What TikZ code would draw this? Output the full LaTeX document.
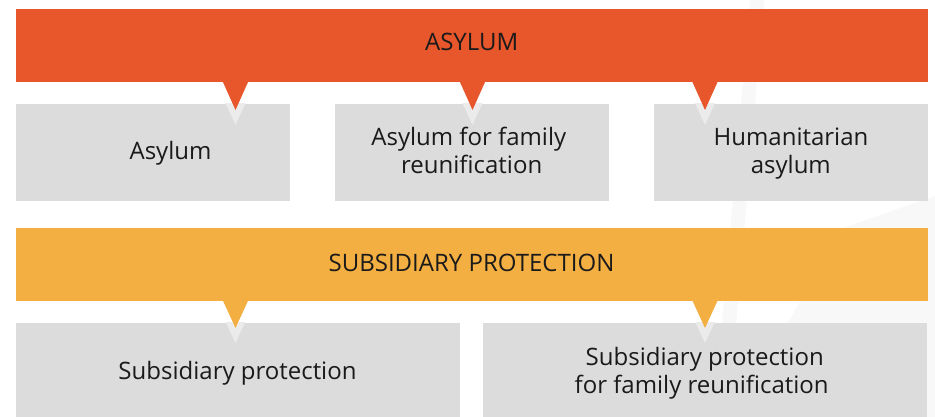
\documentclass[tikz,border=0pt]{standalone}
\usepackage{fontspec}
\setmainfont{Open Sans}
\definecolor{orangebar}{HTML}{E8562B}
\definecolor{yellowbar}{HTML}{F3AF42}
\definecolor{boxgray}{HTML}{DCDCDC}
\definecolor{lighttri}{HTML}{EBEBEB}
\definecolor{bgfaint}{HTML}{F8F8F8}
\definecolor{textdark}{HTML}{1A1A1A}
\begin{document}
\begin{tikzpicture}[x=0.75pt,y=-0.75pt,
  bar/.style={inner sep=0pt, outer sep=0pt, minimum width=684pt},
  smallbox/.style={fill=boxgray, inner sep=0pt, outer sep=0pt, minimum width=205.5pt, minimum height=72.5pt},
  widebox/.style={fill=boxgray, inner sep=0pt, outer sep=0pt, minimum width=333pt, minimum height=70.7pt},
  bodytext/.style={anchor=base, inner sep=0pt, text=textdark, font=\fontsize{18}{21}\selectfont},
  headtext/.style={anchor=base, inner sep=0pt, text=textdark, font=\fontsize{18}{21}\selectfont},
]
\useasboundingbox (0,0) rectangle (935,417);
\fill[white] (0,0) rectangle (935,417);
% faint background decoration
\fill[bgfaint] (750,0) -- (764,0) -- (728,417) -- (714,417) -- cycle;
\fill[bgfaint] (843,228) -- (935,196) -- (935,417) -- (733,417) -- cycle;

% bars
\node[bar, fill=orangebar, minimum height=54.75pt] (asylumbar) at (472,45.5) {};
\node[bar, fill=yellowbar, minimum height=54.5pt] (subbar) at (472,264.35) {};

% boxes
\node[smallbox] (box1) at (153,152.35) {};
\node[smallbox] (box2) at (472,152.35) {};
\node[smallbox] (box3) at (791,152.35) {};
\node[widebox] (box4) at (238,369.85) {};
\node[widebox] (box5) at (705,369.85) {};

% light pointer shadows inside boxes
\begin{scope}
  \clip (16,104) rectangle (928,200.7);
  \foreach \cx in {235.5,472.5,705}
    \fill[lighttri] (\cx-12.8,97) -- (\cx+12.8,97) -- (\cx,125) -- cycle;
\end{scope}
\begin{scope}
  \clip (16,322.7) rectangle (928,417);
  \foreach \cx in {235.5,705}
    \fill[lighttri] (\cx-12.8,315.7) -- (\cx+12.8,315.7) -- (\cx,343) -- cycle;
\end{scope}

% pointers
\foreach \cx in {235.5,472.5,705}
  \fill[orangebar] (\cx-12.8,81.5) -- (\cx+12.8,81.5) -- (\cx,110) -- cycle;
\foreach \cx in {235.5,705}
  \fill[yellowbar] (\cx-12.8,300.2) -- (\cx+12.8,300.2) -- (\cx,328) -- cycle;

% texts
\node[headtext] (h1) at (471.7,51) {ASYLUM};
\node[headtext] (h2) at (471.5,271.7) {SUBSIDIARY PROTECTION};
\node[bodytext] (t1) at (170.5,160) {Asylum};
\node[bodytext] (t2a) at (468.8,146) {Asylum for family};
\node[bodytext] (t2b) at (471.7,173.3) {reunification};
\node[bodytext] (t3a) at (791,146) {Humanitarian};
\node[bodytext] (t3b) at (790.8,173.3) {asylum};
\node[bodytext] (t4) at (237.5,379.3) {Subsidiary protection};
\node[bodytext] (t5a) at (704.7,365) {Subsidiary protection};
\node[bodytext] (t5b) at (701.7,393.3) {for family reunification};
\end{tikzpicture}
\end{document}
